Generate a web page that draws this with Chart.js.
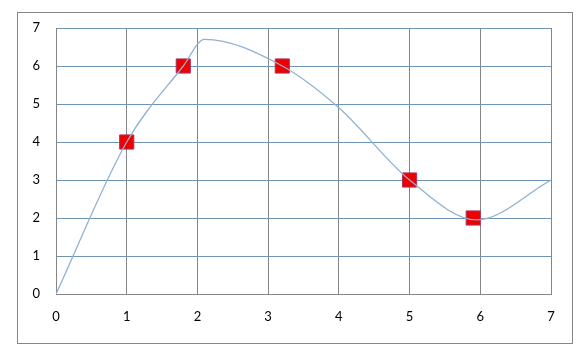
<!DOCTYPE html>
<html>
<head>
<meta charset="utf-8">
<script src="https://cdn.jsdelivr.net/npm/chart.js@4/dist/chart.umd.min.js"></script>
<style>
html,body{margin:0;padding:0;background:#fff;}
#wrap{width:583px;height:352px;position:relative;}
</style>
</head>
<body>
<div id="wrap"><canvas id="c" width="583" height="352"></canvas></div>
<script>
// Smooth curve
const curveX = [0, 1, 1.8, 2.1, 3.2, 4, 5, 5.95, 7];
const curveY = [0, 4, 6, 6.7, 6.0, 4.9, 3.0, 1.95, 3.0];
// Marker points
const markerX = [1, 1.8, 3.2, 5, 5.9];
const markerY = [4, 6, 6, 3, 2];
// Tick labels
const xTicks = [0, 1, 2, 3, 4, 5, 6, 7];
const yTicks = [0, 1, 2, 3, 4, 5, 6, 7];

const curveData = curveX.map((x, i) => ({x: x, y: curveY[i]}));
const markerData = markerX.map((x, i) => ({x: x, y: markerY[i]}));

const outerBorder = {
  id: 'outerBorder',
  beforeDraw(chart) {
    const ctx = chart.ctx;
    ctx.save();
    ctx.fillStyle = '#ffffff';
    ctx.fillRect(0, 0, chart.width, chart.height);
    ctx.strokeStyle = '#868686';
    ctx.lineWidth = 1;
    ctx.strokeRect(17.5, 12.5, 555, 331);
    ctx.restore();
  }
};

new Chart(document.getElementById('c'), {
  type: 'scatter',
  data: {
    datasets: [
      {
        data: curveData,
        showLine: true,
        borderColor: '#8fb1d3',
        borderWidth: 1.3,
        pointRadius: 0,
        cubicInterpolationMode: 'monotone',
        fill: false
      },
      {
        data: markerData,
        showLine: false,
        pointStyle: 'rect',
        pointRadius: 10,
        pointBackgroundColor: '#ee0000',
        pointBorderColor: '#a8335a',
        pointBorderWidth: 1
      }
    ]
  },
  options: {
    responsive: false,
    animation: false,
    devicePixelRatio: 1,
    layout: {padding: {top: 28, right: 32, left: 0, bottom: 0}},
    plugins: {legend: {display: false}, tooltip: {enabled: false}},
    scales: {
      x: {
        type: 'linear',
        min: 0, max: 7,
        afterFit(s) { s.height = 58; },
        afterBuildTicks(s) { s.ticks = xTicks.map(v => ({value: v})); },
        grid: {color: '#868686', lineWidth: 1, drawTicks: false},
        border: {color: '#868686', width: 1},
        ticks: {padding: 15, color: '#000', font: {family: 'Lato', size: 13}, maxRotation: 0}
      },
      y: {
        type: 'linear',
        min: 0, max: 7,
        afterFit(s) { s.width = 56; },
        afterBuildTicks(s) { s.ticks = yTicks.map(v => ({value: v})); },
        grid: {color: '#6f95b6', lineWidth: 1, drawTicks: false},
        border: {color: '#868686', width: 1},
        ticks: {padding: 16, color: '#000', font: {family: 'Lato', size: 13}}
      }
    }
  },
  plugins: [outerBorder]
});
</script>
</body>
</html>
